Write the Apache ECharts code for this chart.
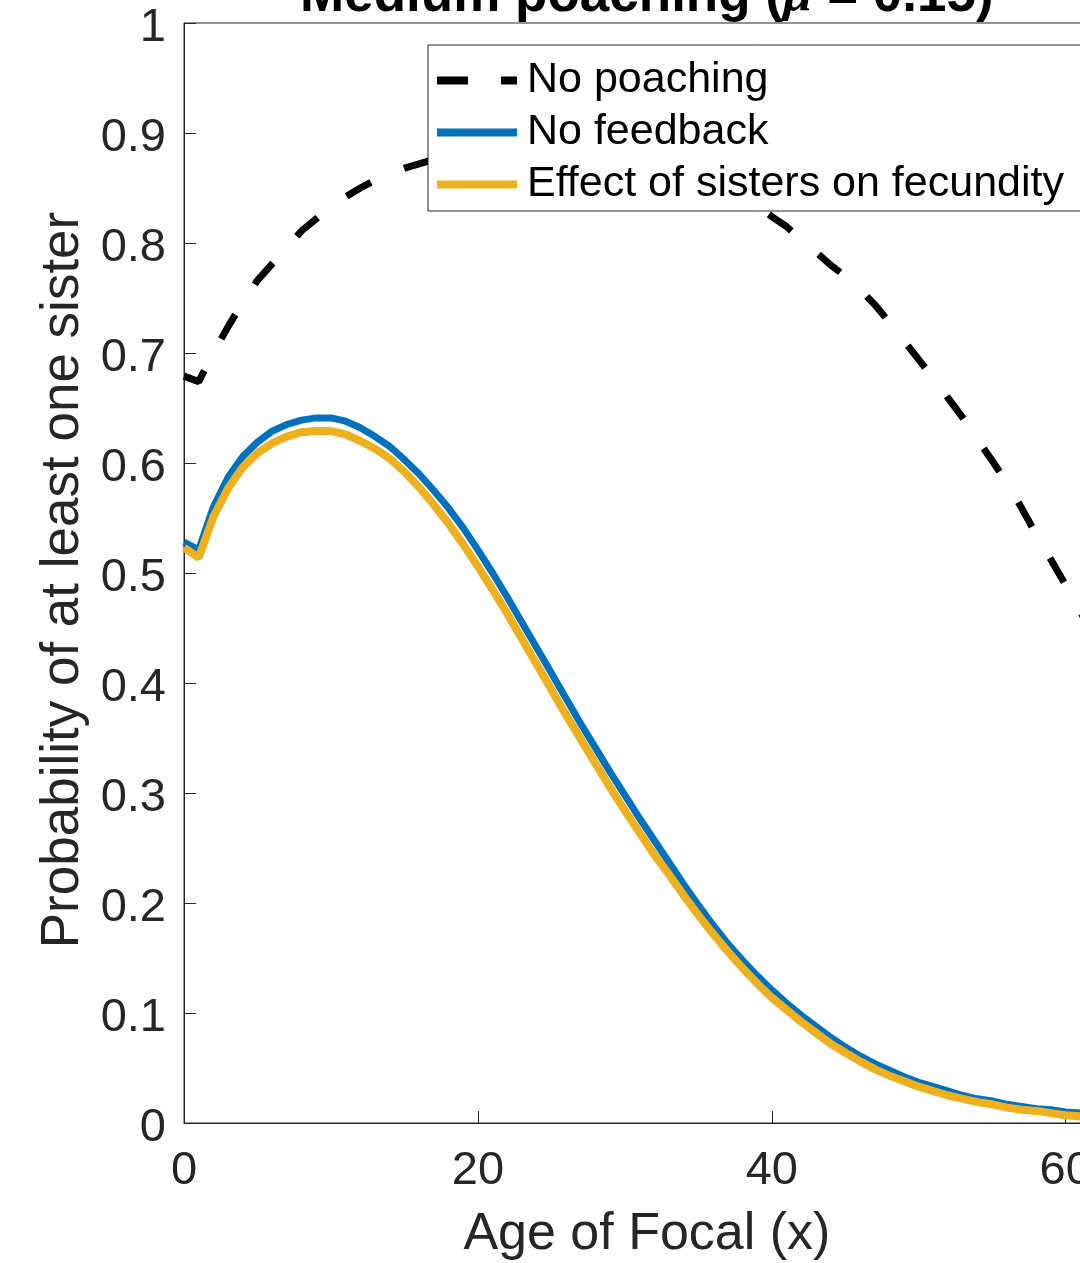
<!DOCTYPE html>
<html><head><meta charset="utf-8">
<script src="https://cdn.jsdelivr.net/npm/echarts@6/dist/echarts.min.js"></script>
<style>html,body{margin:0;padding:0;background:#fff}#c{width:1080px;height:1263px}</style>
</head><body><div id="c"></div><script>
const titleMain = 'Medium poaching (';
const titleMu = 'μ';
const titleTail = ' = 0.15)';
const xName = 'Age of Focal (x)';
const yName = 'Probability of at least one sister';
const seriesNames = ['No poaching', 'No feedback', 'Effect of sisters on fecundity'];

const ages = [0,1,2,3,4,5,6,7,8,9,10,11,12,13,14,15,16,17,18,19,20,21,22,23,24,25,26,27,28,29,30,31,
  32,33,34,35,36,37,38,39,40,41,42,43,44,45,46,47,48,49,50,51,52,53,54,55,56,57,58,59,60,61,62,63];

const noPoaching = [0.679,0.674,0.700,0.724,0.746,0.766,0.781,0.796,0.811,0.822,0.833,0.842,0.850,0.857,0.863,0.868,
  0.872,0.876,0.879,0.883,0.886,0.889,0.891,0.892,0.893,0.893,0.893,0.892,0.890,0.888,0.885,0.882,
  0.878,0.874,0.869,0.863,0.857,0.850,0.842,0.834,0.824,0.815,0.803,0.792,0.780,0.770,0.758,0.744,
  0.728,0.711,0.694,0.677,0.659,0.641,0.621,0.602,0.582,0.559,0.535,0.512,0.489,0.465,0.440,0.415];

const noFeedback = [0.528,0.521,0.560,0.587,0.606,0.619,0.629,0.635,0.639,0.641,0.641,0.638,0.632,0.624,0.615,0.603,
  0.590,0.575,0.559,0.541,0.521,0.500,0.478,0.455,0.432,0.409,0.386,0.363,0.341,0.319,0.298,0.277,
  0.257,0.237,0.217,0.198,0.180,0.163,0.148,0.134,0.121,0.109,0.098,0.088,0.078,0.069,0.061,0.054,
  0.048,0.042,0.037,0.033,0.029,0.025,0.022,0.020,0.017,0.015,0.013,0.012,0.010,0.009,0.008,0.007];

const sistersFecundity = [0.523,0.514,0.551,0.577,0.596,0.609,0.618,0.624,0.628,0.629,0.629,0.626,0.620,0.613,0.604,0.592,
  0.578,0.562,0.545,0.526,0.506,0.485,0.463,0.440,0.417,0.394,0.371,0.349,0.327,0.305,0.284,0.264,
  0.244,0.226,0.207,0.189,0.172,0.156,0.141,0.127,0.114,0.103,0.092,0.082,0.072,0.064,0.056,0.049,
  0.043,0.038,0.033,0.029,0.025,0.022,0.019,0.017,0.014,0.012,0.011,0.009,0.007,0.006,0.005,0.005];

const xMax = 63, xInterval = 20;
const yMin = 0, yMax = 1, yInterval = 0.1;

function pairs(vals){ return ages.map((a,i)=>[a, vals[i]]); }

const FONT = 'Liberation Sans';
const AX = '#262626';
const chart = echarts.init(document.getElementById('c'), null, {renderer:'canvas'});
const pxPerUnit = 14.695;
const gridLeft = 184, gridTop = 23, gridH = 1100;
const gridW = pxPerUnit * xMax;

chart.setOption({
  animation: false,
  backgroundColor: '#fff',
  title: {
    text: '{a|' + titleMain + '}{m|' + titleMu + '}{a|' + titleTail + '}',
    left: gridLeft + gridW / 2,
    textAlign: 'center',
    top: -30,
    padding: 0,
    textStyle: {
      rich: {
        a: {fontFamily: FONT, fontWeight: 'bold', fontSize: 53, color: '#000'},
        m: {fontFamily: 'Liberation Serif', fontStyle: 'italic', fontSize: 53, color: '#000'}
      }
    }
  },
  grid: {
    left: gridLeft, top: gridTop, width: gridW, height: gridH,
    show: true, borderColor: AX, borderWidth: 1, backgroundColor: 'transparent',
    containLabel: false, outerBoundsMode: 'none'
  },
  legend: {
    orient: 'vertical',
    left: 428, top: 45,
    itemWidth: 80, itemHeight: 8, itemGap: 9,
    padding: [14, 20, 5, 9],
    backgroundColor: '#fff',
    borderColor: AX, borderWidth: 1,
    symbolKeepAspect: false,
    textStyle: {fontFamily: FONT, fontSize: 43, color: '#000', padding: [0,0,0,5]},
    data: [
      {name: seriesNames[0], icon: 'path://M0,0h31v8h-31z M64,0h16v8h-16z'},
      {name: seriesNames[1], icon: 'rect'},
      {name: seriesNames[2], icon: 'rect'}
    ]
  },
  xAxis: {
    type: 'value', min: 0, max: xMax, interval: xInterval,
    name: xName, nameLocation: 'middle', nameGap: 86,
    nameTextStyle: {fontFamily: FONT, fontSize: 52, color: AX},
    axisLine: {show: true, lineStyle: {color: AX, width: 1}},
    axisTick: {show: true, inside: true, length: 12, lineStyle: {color: AX, width: 1}},
    axisLabel: {fontFamily: FONT, fontSize: 47, color: AX, margin: 25, showMaxLabel: false},
    splitLine: {show: false}
  },
  yAxis: {
    type: 'value', min: yMin, max: yMax, interval: yInterval,
    name: yName, nameLocation: 'middle', nameGap: 91,
    nameTextStyle: {fontFamily: FONT, fontSize: 53, color: AX, padding: [0, 14, 0, 0]},
    axisLine: {show: true, lineStyle: {color: AX, width: 1}},
    axisTick: {show: true, inside: true, length: 12, lineStyle: {color: AX, width: 1}},
    axisLabel: {
      margin: 18,
      formatter: function(v){ return '{t|' + v + '}'; },
      rich: {t: {fontFamily: FONT, fontSize: 47, color: AX, padding: [10, 0, 0, 0]}}
    },
    splitLine: {show: false}
  },
  series: [
    {name: seriesNames[0], type: 'line', data: pairs(noPoaching), symbol: 'none', smooth: false,
     color: '#000', itemStyle: {color: '#000'}, lineStyle: {color: '#000', width: 7, type: [28, 36], cap: 'butt'}, z: 2},
    {name: seriesNames[1], type: 'line', data: pairs(noFeedback), symbol: 'none', smooth: false,
     color: '#0072BD', itemStyle: {color: '#0072BD'}, lineStyle: {color: '#0072BD', width: 7}, z: 3},
    {name: seriesNames[2], type: 'line', data: pairs(sistersFecundity), symbol: 'none', smooth: false,
     color: '#EDB120', itemStyle: {color: '#EDB120'}, lineStyle: {color: '#EDB120', width: 8}, z: 4}
  ]
});
</script></body></html>
